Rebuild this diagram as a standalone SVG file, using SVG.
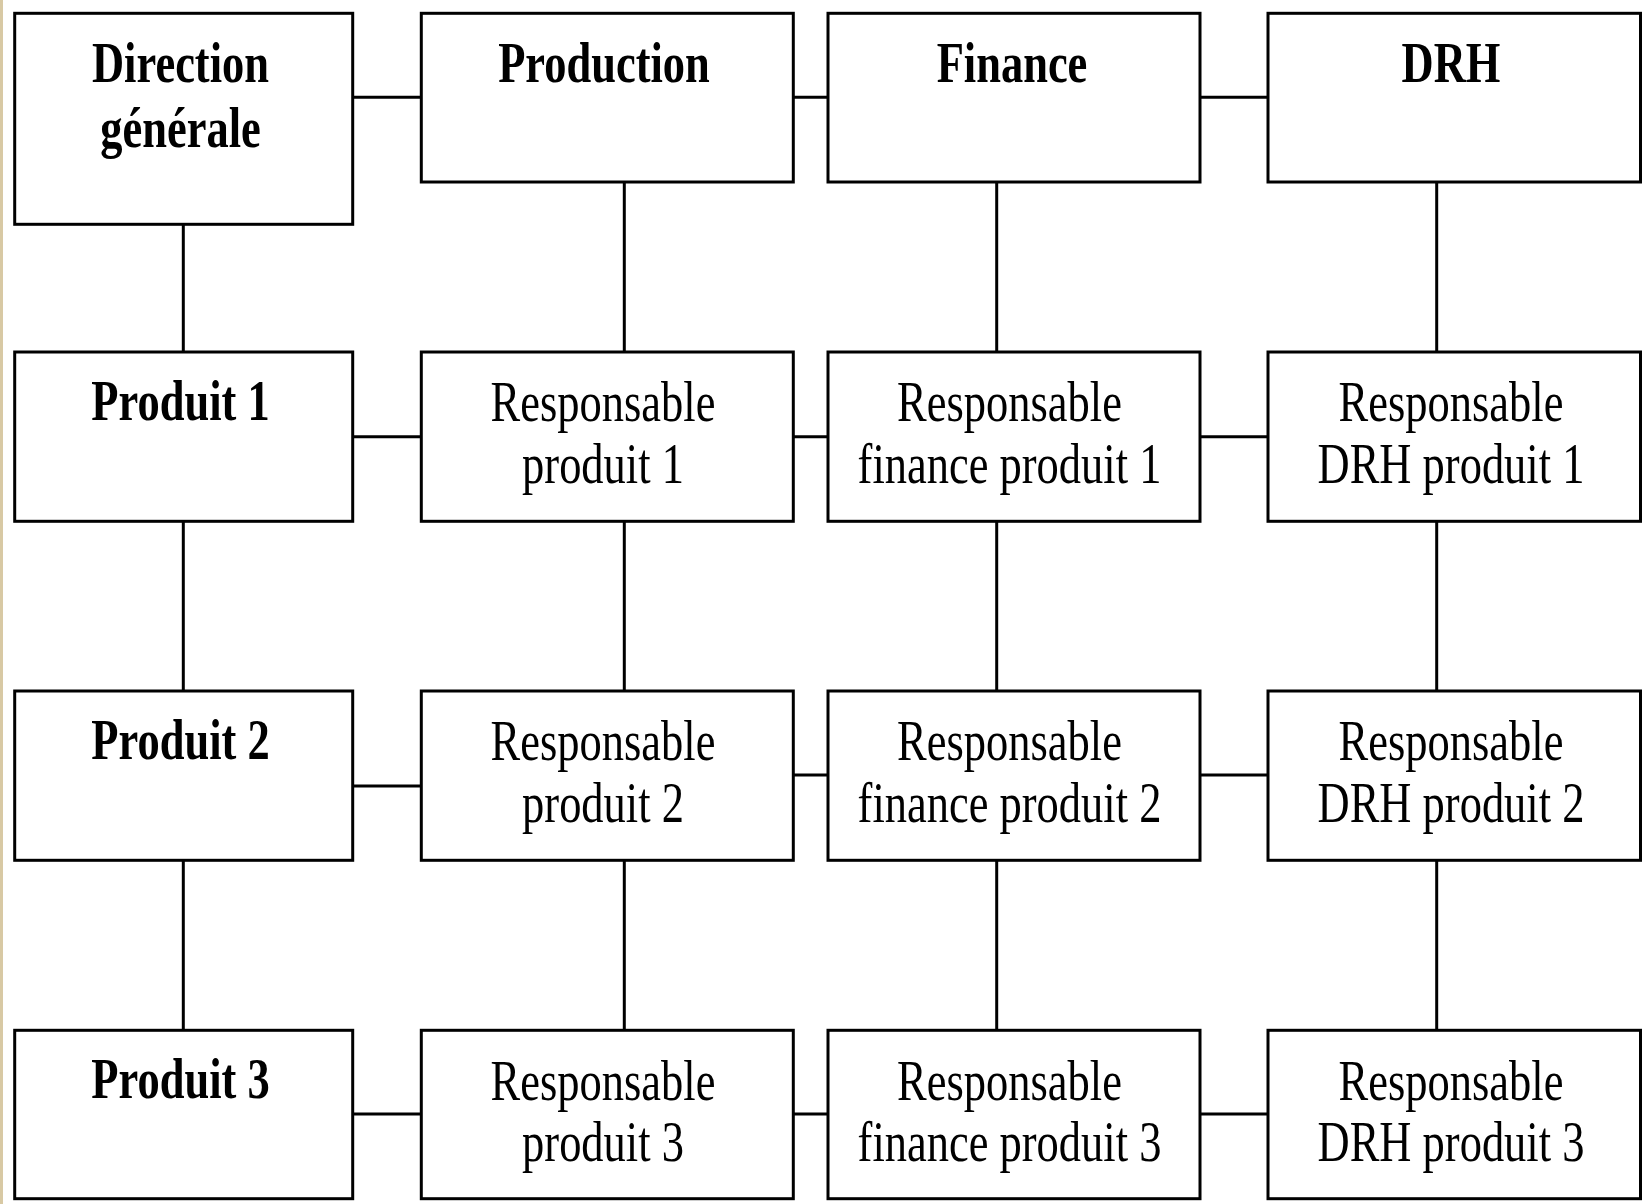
<svg xmlns="http://www.w3.org/2000/svg" width="1643" height="1204" viewBox="0 0 1643 1204">
<style>
.box{fill:#fff;stroke:#000;stroke-width:3}
.c line{stroke:#000;stroke-width:3}
text{font-family:"Liberation Serif","Times New Roman",serif;font-size:58px;text-anchor:middle;fill:#000}
.b{font-weight:bold}
</style>
<rect x="0" y="0" width="1643" height="1204" fill="#fff"/>
<rect x="0" y="0" width="3" height="1204" fill="#d8c9a4"/>
<g class="c" id="connectors">
<line x1="352.7" y1="97.3" x2="421.3" y2="97.3"/>
<line x1="793.3" y1="97.3" x2="828" y2="97.3"/>
<line x1="1200" y1="97.3" x2="1268" y2="97.3"/>
<line x1="352.7" y1="436.7" x2="421.3" y2="436.7"/>
<line x1="793.3" y1="436.7" x2="828" y2="436.7"/>
<line x1="1200" y1="436.7" x2="1268" y2="436.7"/>
<line x1="352.7" y1="786" x2="421.3" y2="786"/>
<line x1="793.3" y1="775" x2="828" y2="775"/>
<line x1="1200" y1="775" x2="1268" y2="775"/>
<line x1="352.7" y1="1114" x2="421.3" y2="1114"/>
<line x1="793.3" y1="1114" x2="828" y2="1114"/>
<line x1="1200" y1="1114" x2="1268" y2="1114"/>
<line x1="183.3" y1="224.3" x2="183.3" y2="352"/>
<line x1="183.3" y1="521.3" x2="183.3" y2="691"/>
<line x1="183.3" y1="860.3" x2="183.3" y2="1030.3"/>
<line x1="624.3" y1="182" x2="624.3" y2="352"/>
<line x1="624.3" y1="521.3" x2="624.3" y2="691"/>
<line x1="624.3" y1="860.3" x2="624.3" y2="1030.3"/>
<line x1="996.7" y1="182" x2="996.7" y2="352"/>
<line x1="996.7" y1="521.3" x2="996.7" y2="691"/>
<line x1="996.7" y1="860.3" x2="996.7" y2="1030.3"/>
<line x1="1436.7" y1="182" x2="1436.7" y2="352"/>
<line x1="1436.7" y1="521.3" x2="1436.7" y2="691"/>
<line x1="1436.7" y1="860.3" x2="1436.7" y2="1030.3"/>
</g>
<g id="direction-generale"><rect class="box" x="14.7" y="13.3" width="338" height="211"/>
<text class="b" transform="translate(180.5,0) scale(0.767,1)" x="0" y="81.7">Direction</text>
<text class="b" transform="translate(180.5,0) scale(0.767,1)" x="0" y="146.7">générale</text></g>
<g id="production"><rect class="box" x="421.3" y="13.3" width="372" height="168.7"/>
<text class="b" transform="translate(604,0) scale(0.767,1)" x="0" y="81.7">Production</text></g>
<g id="finance"><rect class="box" x="828" y="13.3" width="372" height="168.7"/>
<text class="b" transform="translate(1012,0) scale(0.767,1)" x="0" y="81.7">Finance</text></g>
<g id="drh"><rect class="box" x="1268" y="13.3" width="372.5" height="168.7"/>
<text class="b" transform="translate(1451,0) scale(0.767,1)" x="0" y="81.7">DRH</text></g>

<g id="produit1"><rect class="box" x="14.7" y="352" width="338" height="169.3"/>
<text class="b" transform="translate(180.5,0) scale(0.767,1)" x="0" y="420">Produit 1</text></g>
<g id="resp-produit1"><rect class="box" x="421.3" y="352" width="372" height="169.3"/>
<text transform="translate(603,0) scale(0.767,1)" x="0" y="421.5">Responsable</text>
<text transform="translate(603,0) scale(0.767,1)" x="0" y="483">produit 1</text></g>
<g id="resp-finance1"><rect class="box" x="828" y="352" width="372" height="169.3"/>
<text transform="translate(1009.5,0) scale(0.767,1)" x="0" y="421.5">Responsable</text>
<text transform="translate(1009.5,0) scale(0.767,1)" x="0" y="483">finance produit 1</text></g>
<g id="resp-drh1"><rect class="box" x="1268" y="352" width="372.5" height="169.3"/>
<text transform="translate(1451,0) scale(0.767,1)" x="0" y="421.5">Responsable</text>
<text transform="translate(1451,0) scale(0.767,1)" x="0" y="483">DRH produit 1</text></g>

<g id="produit2"><rect class="box" x="14.7" y="691" width="338" height="169.3"/>
<text class="b" transform="translate(180.5,0) scale(0.767,1)" x="0" y="759">Produit 2</text></g>
<g id="resp-produit2"><rect class="box" x="421.3" y="691" width="372" height="169.3"/>
<text transform="translate(603,0) scale(0.767,1)" x="0" y="760.5">Responsable</text>
<text transform="translate(603,0) scale(0.767,1)" x="0" y="822">produit 2</text></g>
<g id="resp-finance2"><rect class="box" x="828" y="691" width="372" height="169.3"/>
<text transform="translate(1009.5,0) scale(0.767,1)" x="0" y="760.5">Responsable</text>
<text transform="translate(1009.5,0) scale(0.767,1)" x="0" y="822">finance produit 2</text></g>
<g id="resp-drh2"><rect class="box" x="1268" y="691" width="372.5" height="169.3"/>
<text transform="translate(1451,0) scale(0.767,1)" x="0" y="760.5">Responsable</text>
<text transform="translate(1451,0) scale(0.767,1)" x="0" y="822">DRH produit 2</text></g>

<g id="produit3"><rect class="box" x="14.7" y="1030.3" width="338" height="168.4"/>
<text class="b" transform="translate(180.5,0) scale(0.767,1)" x="0" y="1098.3">Produit 3</text></g>
<g id="resp-produit3"><rect class="box" x="421.3" y="1030.3" width="372" height="168.4"/>
<text transform="translate(603,0) scale(0.767,1)" x="0" y="1100">Responsable</text>
<text transform="translate(603,0) scale(0.767,1)" x="0" y="1161.5">produit 3</text></g>
<g id="resp-finance3"><rect class="box" x="828" y="1030.3" width="372" height="168.4"/>
<text transform="translate(1009.5,0) scale(0.767,1)" x="0" y="1100">Responsable</text>
<text transform="translate(1009.5,0) scale(0.767,1)" x="0" y="1161.5">finance produit 3</text></g>
<g id="resp-drh3"><rect class="box" x="1268" y="1030.3" width="372.5" height="168.4"/>
<text transform="translate(1451,0) scale(0.767,1)" x="0" y="1100">Responsable</text>
<text transform="translate(1451,0) scale(0.767,1)" x="0" y="1161.5">DRH produit 3</text></g>
</svg>
